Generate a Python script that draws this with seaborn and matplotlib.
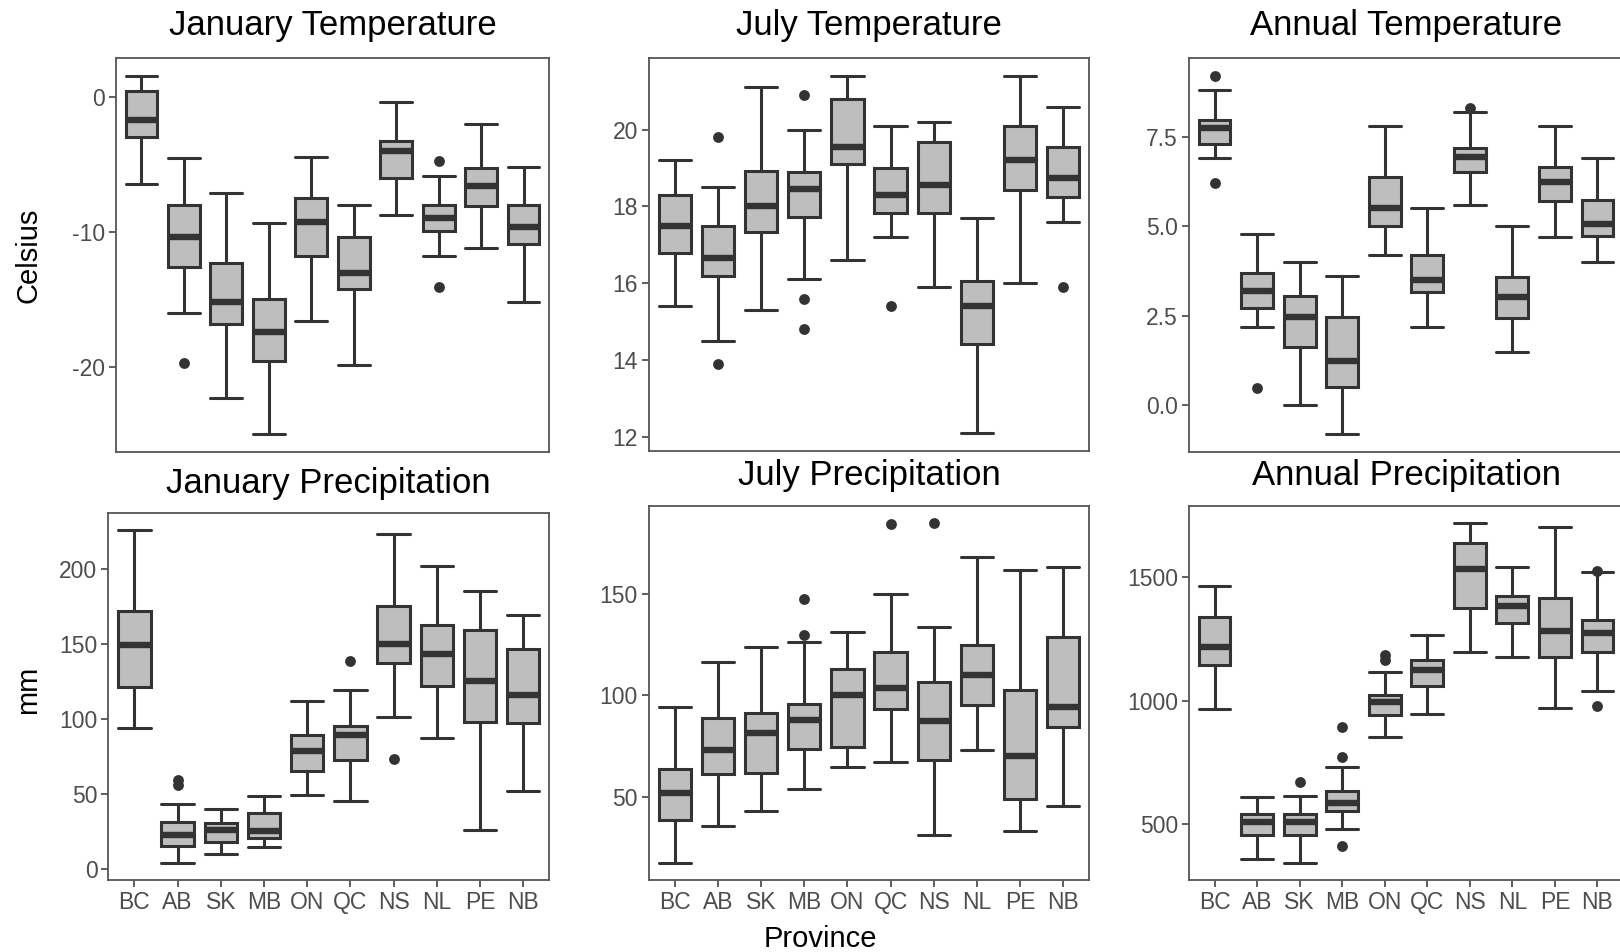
import numpy as np
import pandas as pd
import matplotlib
matplotlib.use("Agg")
import matplotlib.pyplot as plt
import seaborn as sns

sns.set_theme(style="ticks")
plt.rcParams["font.family"] = ["Liberation Sans", "DejaVu Sans"]

PROVINCES = ["BC", "AB", "SK", "MB", "ON", "QC", "NS", "NL", "PE", "NB"]

# Each row: [lower whisker, Q1, median, Q3, upper whisker] for one province
jan_temp = [
    [-6.4, -2.9, -1.7, 0.45, 1.6],
    [-16.0, -12.6, -10.4, -7.95, -4.5],
    [-22.3, -16.8, -15.2, -12.3, -7.1],
    [-25.0, -19.6, -17.4, -15.0, -9.3],
    [-16.6, -11.8, -9.25, -7.45, -4.45],
    [-19.9, -14.2, -13.0, -10.35, -8.0],
    [-8.7, -6.0, -4.0, -3.2, -0.35],
    [-11.8, -9.9, -8.95, -8.0, -5.85],
    [-11.2, -8.05, -6.55, -5.25, -1.95],
    [-15.2, -10.85, -9.6, -7.95, -5.15],
]
jan_temp_outliers = [("AB", -19.7), ("NL", -4.75), ("NL", -14.1)]

jul_temp = [
    [15.4, 16.8, 17.5, 18.3, 19.2],
    [14.5, 16.2, 16.65, 17.5, 18.5],
    [15.3, 17.33, 18.0, 18.93, 21.1],
    [16.1, 17.72, 18.46, 18.89, 20.0],
    [16.6, 19.1, 19.55, 20.81, 21.4],
    [17.2, 17.82, 18.3, 19.0, 20.1],
    [15.9, 17.83, 18.55, 19.67, 20.2],
    [12.1, 14.42, 15.4, 16.07, 17.7],
    [16.0, 18.43, 19.21, 20.09, 21.4],
    [17.6, 18.25, 18.75, 19.55, 20.6],
]
jul_temp_outliers = [("AB", 19.8), ("AB", 13.9), ("MB", 20.9), ("MB", 15.6),
                     ("MB", 14.8), ("QC", 15.4), ("NB", 15.9)]

ann_temp = [
    [6.9, 7.29, 7.75, 7.96, 8.8],
    [2.2, 2.73, 3.2, 3.69, 4.8],
    [0.0, 1.63, 2.46, 3.06, 4.0],
    [-0.8, 0.52, 1.25, 2.47, 3.6],
    [4.2, 5.0, 5.5, 6.37, 7.8],
    [2.2, 3.17, 3.51, 4.21, 5.5],
    [5.6, 6.51, 6.93, 7.19, 8.2],
    [1.5, 2.45, 3.04, 3.58, 5.0],
    [4.7, 5.72, 6.25, 6.66, 7.8],
    [4.0, 4.72, 5.06, 5.74, 6.9],
]
ann_temp_outliers = [("BC", 9.2), ("BC", 6.2), ("AB", 0.5), ("NS", 8.3)]

jan_prec = [
    [94, 121, 149, 172, 226],
    [3.6, 15, 22.7, 31, 43],
    [10, 18, 26, 30.7, 40],
    [14.7, 20.2, 25, 37, 48.4],
    [49.3, 65, 78.7, 89.3, 111.6],
    [45.3, 72.7, 89, 95, 119],
    [101, 137, 150, 175, 223],
    [87, 121.6, 143, 162.4, 201.6],
    [26, 97.8, 125, 159, 185],
    [51.8, 97, 116, 146.7, 169.3],
]
jan_prec_outliers = [("AB", 59), ("AB", 56), ("QC", 138.4), ("NS", 73)]

jul_prec = [
    [17.5, 38.6, 52, 63.7, 94.3],
    [35.5, 61.5, 73.3, 88.7, 116.7],
    [43.2, 61.9, 81.5, 91.5, 123.9],
    [53.7, 73.8, 87.7, 95.9, 126.5],
    [64.8, 74.6, 100, 112.9, 131.1],
    [67.4, 93.1, 103.9, 121.3, 149.9],
    [31.4, 68.1, 87.2, 106.5, 133.9],
    [73.3, 95.4, 110, 125, 168.4],
    [33.4, 48.9, 70, 102.5, 161.9],
    [45.7, 84.5, 94.4, 128.8, 163.2],
]
jul_prec_outliers = [("MB", 147.3), ("MB", 129.6), ("QC", 184.5), ("NS", 184.9)]

ann_prec = [
    [966, 1143, 1218, 1338, 1466],
    [359, 455, 509, 541, 607],
    [341, 453, 509, 541, 612],
    [480, 551, 586, 635, 730],
    [854, 942, 996, 1023, 1114],
    [946, 1058, 1122, 1165, 1265],
    [1196, 1377, 1534, 1639, 1720],
    [1176, 1315, 1384, 1423, 1543],
    [970, 1176, 1280, 1415, 1703],
    [1038, 1197, 1272, 1327, 1520],
]
ann_prec_outliers = [("SK", 670), ("MB", 892), ("MB", 769), ("MB", 411),
                     ("ON", 1184), ("ON", 1166), ("NB", 1524), ("NB", 976)]

W, H = 1620, 952
fig = plt.figure(figsize=(W / 100, H / 100), dpi=100)
fig.patch.set_facecolor("white")


def rect(x0, y0, x1, y1):
    return [x0 / W, 1 - y1 / H, (x1 - x0) / W, (y1 - y0) / H]


panels = [
    dict(title="January Temperature", stats=jan_temp, out=jan_temp_outliers,
         ticks=[-20, -10, 0], fmt="{:g}", box=(116, 58, 549, 452), ty=25, bottom=False),
    dict(title="July Temperature", stats=jul_temp, out=jul_temp_outliers,
         ticks=[12, 14, 16, 18, 20], fmt="{:g}", box=(649, 58, 1089, 451), ty=25, bottom=False),
    dict(title="Annual Temperature", stats=ann_temp, out=ann_temp_outliers,
         ticks=[0, 2.5, 5, 7.5], fmt="{:.1f}", box=(1189, 58, 1623, 452), ty=25, bottom=False),
    dict(title="January Precipitation", stats=jan_prec, out=jan_prec_outliers,
         ticks=[0, 50, 100, 150, 200], fmt="{:g}", box=(108.5, 513, 549, 880), ty=483, bottom=True),
    dict(title="July Precipitation", stats=jul_prec, out=jul_prec_outliers,
         ticks=[50, 100, 150], fmt="{:g}", box=(649, 506, 1089, 880), ty=475, bottom=True),
    dict(title="Annual Precipitation", stats=ann_prec, out=ann_prec_outliers,
         ticks=[500, 1000, 1500], fmt="{:g}", box=(1189, 506, 1623, 880), ty=475, bottom=True),
]

LINE = "#333333"
FILL = "#BEBEBE"

for p in panels:
    ax = fig.add_axes(rect(*p["box"]))
    long = pd.DataFrame({
        "province": np.repeat(PROVINCES, 5),
        "value": np.ravel(np.array(p["stats"], dtype=float)),
    })
    sns.boxplot(data=long, x="province", y="value", order=PROVINCES,
                whis=(0, 100), width=0.75, color=FILL, saturation=1,
                linecolor=LINE, linewidth=2.2, showfliers=False,
                capwidths=0.75, medianprops=dict(linewidth=4.6), ax=ax)
    out = pd.DataFrame(p["out"], columns=["province", "value"])
    sns.stripplot(data=out, x="province", y="value", order=PROVINCES,
                  jitter=False, color=LINE, size=7.8, linewidth=0, ax=ax)

    allv = np.concatenate([long["value"].values, out["value"].values])
    lo, hi = allv.min(), allv.max()
    pad = 0.05 * (hi - lo)
    ax.set_ylim(lo - pad, hi + pad)
    ax.set_xlim(-0.6, len(PROVINCES) - 0.4)

    ax.set_yticks(p["ticks"])
    ax.set_yticklabels([p["fmt"].format(t) for t in p["ticks"]])
    ax.set_xlabel("")
    ax.set_ylabel("")
    ax.tick_params(axis="both", direction="out", length=5, width=1.1,
                   color=LINE, labelcolor="#4D4D4D", labelsize=16.5, pad=3)
    if not p["bottom"]:
        ax.tick_params(axis="x", bottom=False, labelbottom=False)
    for s in ax.spines.values():
        s.set_visible(True)
        s.set_color("#555555")
        s.set_linewidth(1.3)
    ax.set_facecolor("white")

    x0, _, x1, _ = p["box"]
    fig.text((x0 + x1) / 2 / W, 1 - p["ty"] / H, p["title"],
             ha="center", va="center", fontsize=25, color="black")

fig.text(29 / W, 1 - 255 / H, "Celsius", rotation=90, ha="center", va="center",
         fontsize=21, color="black")
fig.text(28 / W, 1 - 690 / H, "mm", rotation=90, ha="center", va="center",
         fontsize=21, color="black")
fig.text(820 / W, 1 - 939 / H, "Province", ha="center", va="center",
         fontsize=21, color="black")

fig.savefig("out.png", dpi=100, facecolor="white")
